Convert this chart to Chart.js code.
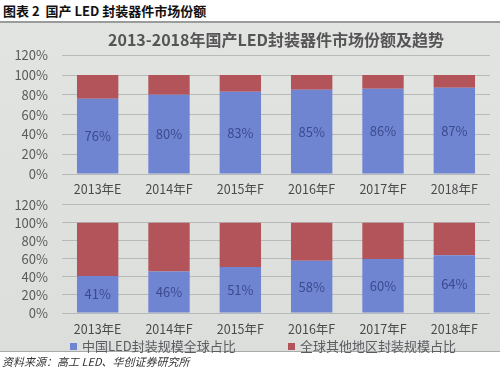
<!DOCTYPE html>
<html>
<head>
<meta charset="utf-8">
<script src="https://cdn.jsdelivr.net/npm/chart.js@4"></script>
<style>
  html, body { margin:0; padding:0; background:#fff; }
  #wrap { position:relative; width:500px; height:368px; overflow:hidden; font-family:"Noto Sans CJK SC", sans-serif; }
  #hdr { position:absolute; left:3px; top:1px; font-size:13px; font-weight:bold; color:#111; white-space:nowrap; }
  #panel { position:absolute; left:0; top:21px; width:500px; height:331px; background:linear-gradient(#e2e4e2,#dcdedc); border-top:2px solid #9a9c9c; border-bottom:1px solid #a8aaaa; box-sizing:border-box; }
  #c1 { position:absolute; left:0; top:22px; }
  #c2 { position:absolute; left:0; top:183px; }
  #legend { position:absolute; left:0; top:336px; width:500px; font-size:13px; color:#5a5c60; white-space:nowrap; }
  #legend span.item { position:absolute; top:0; }
  #legend i { display:inline-block; width:7px; height:7px; margin-right:5px; vertical-align:1px; }
  #src { position:absolute; left:2px; top:353px; font-size:11px; font-style:italic; color:#333; white-space:nowrap; }
</style>
</head>
<body>
<div id="wrap">
  <div id="hdr">图表 2&nbsp; 国产 LED 封装器件市场份额</div>
  <div id="panel"></div>
  <canvas id="c1" width="500" height="183"></canvas>
  <canvas id="c2" width="500" height="163"></canvas>
  <div id="legend"></div>
  <div id="src">资料来源：高工 LED、华创证券研究所</div>
</div>
<script>
const categories = ["2013年E","2014年F","2015年F","2016年F","2017年F","2018年F"];
const chinaShareTop = [76, 80, 83, 85, 86, 87];
const otherShareTop = [24, 20, 17, 15, 14, 13];
const chinaShareBottom = [41, 46, 51, 58, 60, 64];
const otherShareBottom = [59, 54, 49, 42, 40, 36];
const seriesNames = ["中国LED封装规模全球占比", "全球其他地区封装规模占比"];
const chartTitle = "2013-2018年国产LED封装器件市场份额及趋势";

const BLUE = "#6f85d2";
const RED = "#b3545a";
const FONT = "'Noto Sans CJK SC', sans-serif";

// HTML legend built from the series names
const legendEl = document.getElementById("legend");
const legendX = [70, 288];
seriesNames.forEach((name, i) => {
  const s = document.createElement("span");
  s.className = "item";
  s.style.left = legendX[i] + "px";
  s.innerHTML = '<i style="background:' + (i === 0 ? BLUE : RED) + '"></i>' + name;
  legendEl.appendChild(s);
});

const labelPlugin = {
  id: "blueLabels",
  afterDatasetsDraw(chart) {
    const ctx = chart.ctx;
    const meta = chart.getDatasetMeta(0);
    const data = chart.data.datasets[0].data;
    ctx.save();
    ctx.font = "13px " + FONT;
    ctx.fillStyle = "#3c4a8e";
    ctx.textAlign = "center";
    ctx.textBaseline = "middle";
    meta.data.forEach((bar, i) => {
      const p = bar.getProps(["x","y","base"], true);
      ctx.fillText(data[i] + "%", p.x, (p.y + p.base) / 2);
    });
    ctx.restore();
  }
};

function makeChart(id, china, other, opts) {
  return new Chart(document.getElementById(id), {
    type: "bar",
    data: {
      labels: categories,
      datasets: [
        { label: seriesNames[0], data: china, backgroundColor: BLUE, barPercentage: 0.58, categoryPercentage: 1 },
        { label: seriesNames[1], data: other, backgroundColor: RED, barPercentage: 0.58, categoryPercentage: 1 }
      ]
    },
    options: {
      responsive: false,
      animation: false,
      layout: { padding: opts.padding },
      plugins: {
        legend: { display: false },
        title: opts.title,
        tooltip: { enabled: false }
      },
      scales: {
        x: {
          stacked: true,
          grid: { display: false, drawTicks: false },
          border: { display: false },
          ticks: { color: "#4a4a4a", font: { family: FONT, size: 12.5 }, padding: opts.xPad, maxRotation: 0, autoSkip: false }
        },
        y: {
          stacked: true,
          min: 0, max: 120,
          ticks: { stepSize: 20, autoSkip: false, color: "#5a5a5a", font: { family: FONT, size: 13 }, padding: 14, callback: v => v + "%" },
          grid: { color: "#b8baba", lineWidth: 1, drawTicks: false },
          border: { display: false },
          afterFit(s) { s.width = 62; }
        }
      }
    },
    plugins: [labelPlugin]
  });
}

makeChart("c1", chinaShareTop, otherShareTop, {
  padding: { left: 0, right: 10, top: 6, bottom: 0 },
  xPad: 8,
  title: { display: true, text: chartTitle, fullSize: false, color: "#555", font: { family: FONT, size: 16, weight: "bold" }, padding: { top: 2, bottom: 6 } }
});

makeChart("c2", chinaShareBottom, otherShareBottom, {
  padding: { left: 0, right: 10, top: 8, bottom: 0 },
  xPad: 9,
  title: { display: false }
});
</script>
</body>
</html>
